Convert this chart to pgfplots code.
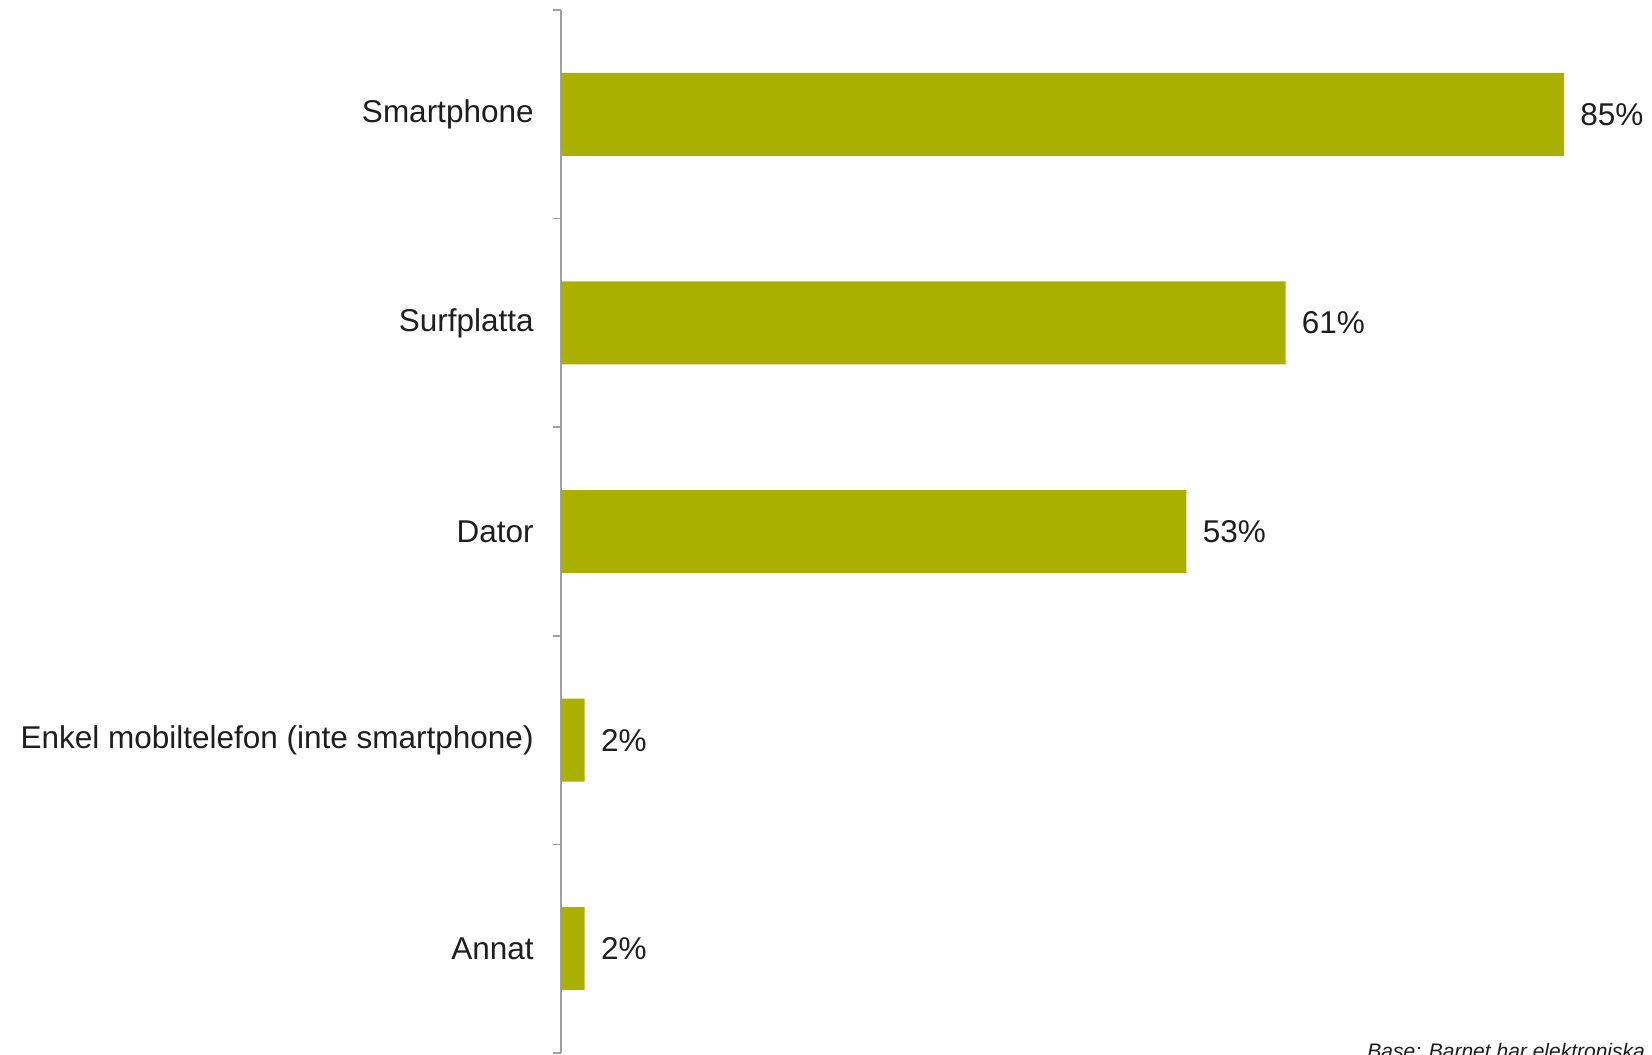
\documentclass[border=0pt]{standalone}
\usepackage{pgfplots}
\pgfplotsset{compat=1.18}
\usepackage{fontspec}
\setmainfont{Liberation Sans}
\definecolor{barolive}{RGB}{170,176,0}
\definecolor{axisgray}{RGB}{160,160,160}
\definecolor{txt}{RGB}{30,30,30}
\begin{document}
\begin{tikzpicture}
  \useasboundingbox (0,0) rectangle (826pt,527pt);
  \begin{axis}[
      at={(280.5pt,0.5pt)}, anchor=south west,
      scale only axis,
      width=531pt, height=521.5pt,
      xbar, bar width=41.5pt,
      xmin=0, xmax=90,
      ymin=-0.5, ymax=4.5, y dir=reverse,
      axis x line=none,
      axis y line*=left,
      axis line style={axisgray, line width=0.8pt, -},
      ytick={0,...,4},
      yticklabels={Smartphone,Surfplatta,Dator,Enkel mobiltelefon (inte smartphone),Annat},
      major tick length=0pt,
      minor ytick={-0.5,0.5,...,4.5},
      minor tick length=4pt,
      tick align=outside,
      minor y tick style={axisgray, line width=0.8pt},
      major y tick style={draw=none},
      yticklabel style={font=\fontsize{15.75}{18}\selectfont, text=txt, inner sep=0pt, xshift=-13.5pt},
      /pgf/number format/assume math mode=true,
      nodes near coords={\pgfmathprintnumber[fixed,precision=0,assume math mode=true]{\pgfplotspointmeta}\%},
      nodes near coords style={anchor=west, inner sep=0pt, xshift=8pt,
        font=\fontsize{15.75}{18}\selectfont, text=txt},
      clip=false,
    ]
    \addplot[draw=none, fill=barolive]
    coordinates {(85,0) (61.4,1) (53,2) (2,3) (2,4)};
  \end{axis}
  \node[anchor=base west, inner sep=0pt, text=txt, font=\fontsize{10.5}{12}\selectfont\itshape]
    at (683.5pt,-2pt) {Base: Barnet har elektroniska};
\end{tikzpicture}
\end{document}
